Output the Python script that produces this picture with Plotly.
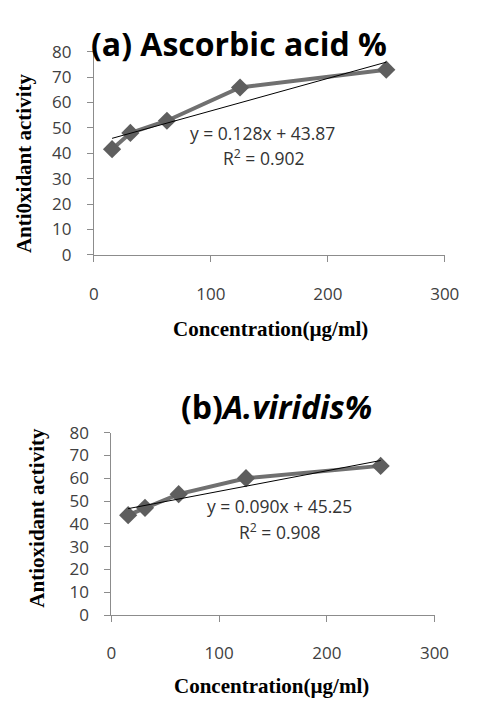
import plotly.graph_objects as go

# Data
conc = [15.6, 31.25, 62.5, 125, 250]
ascorbic = [41.6, 48.0, 52.8, 65.9, 72.9]
viridis = [43.8, 47.0, 53.0, 60.0, 65.4]
trend_a = [0.128, 43.87]
trend_b = [0.090, 45.25]
r2 = [0.902, 0.908]
x_ticks = [0, 100, 200, 300]
y_ticks = [0, 10, 20, 30, 40, 50, 60, 70, 80]

W, H = 477, 708
def px(x):
    return x / W
def py(y):
    return 1 - y / H

line_col = "#707070"
marker_col = "#5e5e5e"
axis_col = "#8c8c8c"
tick_font = dict(family="Open Sans", size=17, color="#404040")

fig = go.Figure()

for i, (vals, tr) in enumerate([(ascorbic, trend_a), (viridis, trend_b)]):
    xa = "x" if i == 0 else "x2"
    ya = "y" if i == 0 else "y2"
    fig.add_trace(go.Scatter(
        x=conc, y=vals, mode="lines+markers", xaxis=xa, yaxis=ya,
        line=dict(color=line_col, width=4),
        marker=dict(symbol="diamond", size=14, color=marker_col),
        showlegend=False))
    tx = [min(conc), max(conc)]
    fig.add_trace(go.Scatter(
        x=tx, y=[tr[0] * v + tr[1] for v in tx], mode="lines", xaxis=xa, yaxis=ya,
        line=dict(color="#000000", width=1), showlegend=False))

axis_common = dict(showgrid=False, zeroline=False, showline=True, linecolor=axis_col,
                   linewidth=1, ticks="outside", ticklen=6, tickcolor=axis_col,
                   tickfont=tick_font)

fig.update_layout(
    width=W, height=H, margin=dict(l=0, r=0, t=0, b=0),
    paper_bgcolor="white", plot_bgcolor="white",
    xaxis=dict(domain=[px(92.7), px(459)], range=[0, 300], tickvals=x_ticks,
               anchor="y", ticklabelstandoff=18, **axis_common),
    yaxis=dict(domain=[py(251), py(41)], range=[0, 80], tickvals=y_ticks,
               anchor="x", ticklabelstandoff=12, **axis_common),
    xaxis2=dict(domain=[px(111), px(448.3)], range=[0, 300], tickvals=x_ticks,
                anchor="y2", ticklabelstandoff=17, **axis_common),
    yaxis2=dict(domain=[py(623.3), py(434.7)], range=[0, 80], tickvals=y_ticks,
                anchor="x2", ticklabelstandoff=12, **axis_common),
)

ann = []
title_font = dict(family="Open Sans", size=32, color="#000000")
ann.append(dict(text="<b>(a) Ascorbic acid %</b>", x=px(244.5), y=py(33), xref="paper", yref="paper",
                showarrow=False, font=title_font, xanchor="center", yanchor="middle"))
ann.append(dict(text="<b>(b)<i>A.viridis%</i></b>", x=px(283.5), y=py(408), xref="paper", yref="paper",
                showarrow=False, font=title_font, xanchor="center", yanchor="middle"))
serif = dict(family="Liberation Serif", size=21, color="#000000")
ann.append(dict(text="<b>Anti0xidant activity</b>", x=px(20), y=py(156), xref="paper", yref="paper",
                showarrow=False, textangle=-90, font=serif, xanchor="center", yanchor="middle"))
ann.append(dict(text="<b>Antioxidant activity</b>", x=px(33), y=py(523), xref="paper", yref="paper",
                showarrow=False, textangle=-90, font=serif, xanchor="center", yanchor="middle"))
ann.append(dict(text="<b>Concentration(µg/ml)</b>", x=px(277), y=py(328), xref="paper", yref="paper",
                showarrow=False, font=serif, xanchor="center", yanchor="middle"))
ann.append(dict(text="<b>Concentration(µg/ml)</b>", x=px(278), y=py(697), xref="paper", yref="paper",
                showarrow=False, font=serif, xanchor="center", yanchor="middle"))
eq_font = dict(family="Open Sans", size=17.5, color="#333333")
ann.append(dict(text=f"y = {trend_a[0]:.3f}x + {trend_a[1]:.2f}", x=px(269), y=py(125), xref="paper", yref="paper",
                showarrow=False, font=eq_font, xanchor="center", yanchor="middle"))
ann.append(dict(text=f"R<sup>2</sup> = {r2[0]:.3f}", x=px(270), y=py(150), xref="paper", yref="paper",
                showarrow=False, font=eq_font, xanchor="center", yanchor="middle"))
ann.append(dict(text=f"y = {trend_b[0]:.3f}x + {trend_b[1]:.2f}", x=px(287), y=py(511), xref="paper", yref="paper",
                showarrow=False, font=eq_font, xanchor="center", yanchor="middle"))
ann.append(dict(text=f"R<sup>2</sup> = {r2[1]:.3f}", x=px(287), y=py(537), xref="paper", yref="paper",
                showarrow=False, font=eq_font, xanchor="center", yanchor="middle"))

fig.update_layout(annotations=ann)
fig.write_html("out.html", config={"displayModeBar": False})

with open("out.html", "r", encoding="utf-8") as f:
    html = f.read()
html = html.replace("<head>", "<head><style>html,body{margin:0;padding:0;overflow:hidden;}</style>", 1)
with open("out.html", "w", encoding="utf-8") as f:
    f.write(html)
